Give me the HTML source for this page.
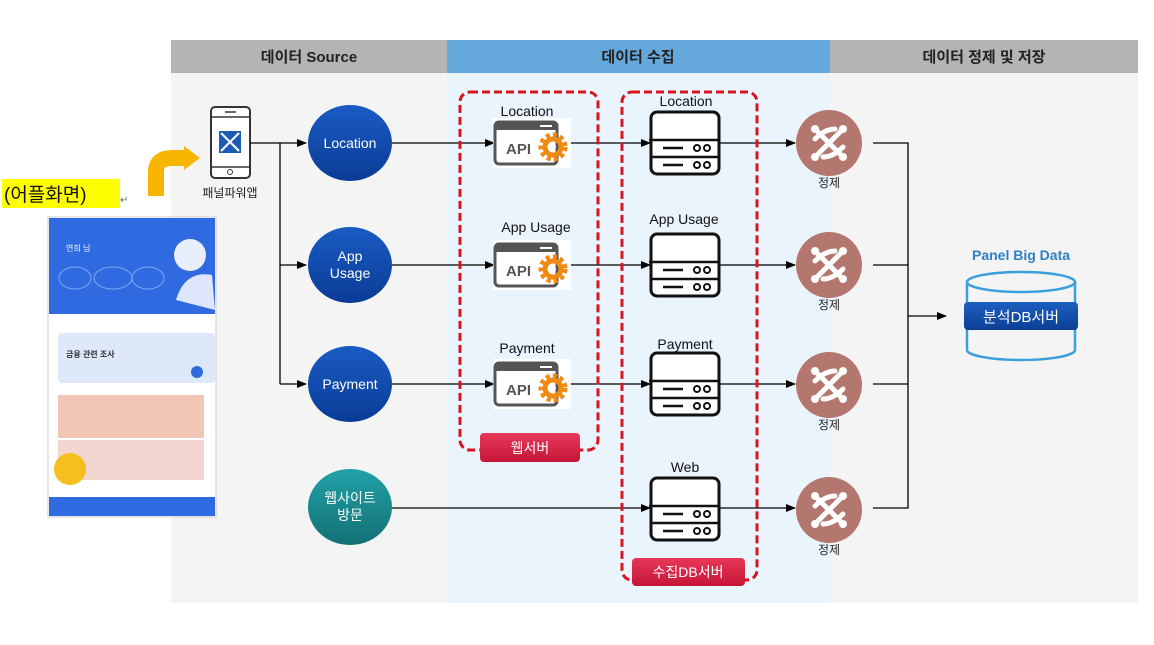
<!DOCTYPE html>
<html><head><meta charset="utf-8"><style>
html,body{margin:0;padding:0;background:#fff;width:1154px;height:645px;overflow:hidden}
svg{display:block}
text{font-family:"Liberation Sans","Noto Sans CJK KR",sans-serif}
</style></head><body>
<svg width="1154" height="645" viewBox="0 0 1154 645" xmlns="http://www.w3.org/2000/svg">
<defs>
<marker id="ah" markerWidth="10" markerHeight="8" refX="9" refY="4" orient="auto" markerUnits="userSpaceOnUse"><path d="M0,0 L10,4 L0,8 z" fill="#000"/></marker>
<linearGradient id="blu" x1="0" y1="0" x2="0" y2="1"><stop offset="0" stop-color="#1a5bc4"/><stop offset="1" stop-color="#0a3c96"/></linearGradient>
<linearGradient id="tea" x1="0" y1="0" x2="0" y2="1"><stop offset="0" stop-color="#21a2a8"/><stop offset="1" stop-color="#137075"/></linearGradient>
<linearGradient id="red" x1="0" y1="0" x2="0" y2="1"><stop offset="0" stop-color="#e8385a"/><stop offset="1" stop-color="#c51638"/></linearGradient>
<linearGradient id="dbb" x1="0" y1="0" x2="0" y2="1"><stop offset="0" stop-color="#1d5fc0"/><stop offset="1" stop-color="#0b3f95"/></linearGradient>
<g id="srv"><rect x="0" y="0" width="68" height="62" rx="6" fill="#fff" stroke="#111" stroke-width="3"/><line x1="-2" y1="28" x2="68" y2="28" stroke="#111" stroke-width="2.5"/><line x1="0" y1="45" x2="68" y2="45" stroke="#111" stroke-width="2.5"/><line x1="12" y1="36" x2="32" y2="36" stroke="#111" stroke-width="2.5"/><line x1="12" y1="53" x2="32" y2="53" stroke="#111" stroke-width="2.5"/><circle cx="46" cy="36" r="3" fill="none" stroke="#111" stroke-width="2"/><circle cx="56" cy="36" r="3" fill="none" stroke="#111" stroke-width="2"/><circle cx="46" cy="53" r="3" fill="none" stroke="#111" stroke-width="2"/><circle cx="56" cy="53" r="3" fill="none" stroke="#111" stroke-width="2"/></g>
<g id="api"><rect x="-1" y="-4" width="78" height="50" fill="#fff"/><rect x="1" y="0" width="62" height="42" rx="4" fill="#fff" stroke="#555" stroke-width="3"/><rect x="1" y="0" width="62" height="8" fill="#555"/><line x1="46" y1="4" x2="58" y2="4" stroke="#fff" stroke-width="2"/><text x="12" y="32" font-size="15" font-weight="bold" fill="#555">API</text><circle cx="59" cy="25" r="12" fill="none" stroke="#f08a12" stroke-width="5" stroke-dasharray="4 3"/><circle cx="59" cy="25" r="8" fill="none" stroke="#f08a12" stroke-width="5"/><circle cx="59" cy="25" r="3" fill="#fff"/></g>
<g id="ref"><circle cx="0" cy="0" r="33" fill="#b4776f"/><g stroke="#fff" stroke-width="5" fill="none" stroke-linecap="round"><path d="M-12,-12 L12,12 M12,-12 L-12,12"/><path d="M-14,-4 Q-4,-14 6,-14 M14,4 Q4,14 -6,14"/></g><circle cx="-14" cy="-14" r="4" fill="#fff"/><circle cx="14" cy="-14" r="4" fill="#fff"/><circle cx="-14" cy="14" r="4" fill="#fff"/><circle cx="14" cy="14" r="4" fill="#fff"/></g>
</defs>
<!-- backgrounds -->
<rect x="171" y="73" width="276" height="530" fill="#f4f4f4"/>
<rect x="447" y="73" width="383" height="530" fill="#eaf4fc"/>
<rect x="830" y="73" width="308" height="530" fill="#f4f4f4"/>
<rect x="171" y="40" width="276" height="33" fill="#b4b4b4"/>
<rect x="447" y="40" width="383" height="33" fill="#64a8dc"/>
<rect x="830" y="40" width="308" height="33" fill="#b4b4b4"/>
<text x="309" y="62" font-size="15" font-weight="bold" fill="#222" text-anchor="middle">데이터 Source</text>
<text x="638" y="62" font-size="15" font-weight="bold" fill="#222" text-anchor="middle">데이터 수집</text>
<text x="984" y="62" font-size="15" font-weight="bold" fill="#222" text-anchor="middle">데이터 정제 및 저장</text>

<!-- left side -->
<rect x="2" y="179" width="118" height="29" fill="#ffff00"/>
<text x="4" y="201" font-size="19" fill="#111">(어플화면)</text>
<text x="120" y="203" font-size="10" fill="#666">↵</text>
<path d="M156,196 L156,172 Q156,158 172,158 L186,158" fill="none" stroke="#f8b500" stroke-width="16"/>
<path d="M184,146 L200,158 L184,170 z" fill="#f8b500"/>
<!-- app screenshot -->
<rect x="48" y="217" width="168" height="300" fill="#fff" stroke="#ccc"/>
<rect x="49" y="218" width="166" height="96" fill="#2f6ae0"/>
<path d="M49,314 Q60,305 100,305 L215,305 L215,314 z" fill="#2f6ae0"/>
<text x="66" y="251" font-size="8" fill="#fff">연희 님</text>
<ellipse cx="75" cy="278" rx="16" ry="11" fill="none" stroke="#7fa8f0"/>
<ellipse cx="113" cy="278" rx="19" ry="11" fill="none" stroke="#7fa8f0"/>
<ellipse cx="148" cy="278" rx="16" ry="11" fill="none" stroke="#7fa8f0"/>
<circle cx="190" cy="255" r="16" fill="#e8eefc"/>
<path d="M176,300 Q185,270 212,275 L215,310 z" fill="#dde6fb"/>
<rect x="58" y="333" width="157" height="50" rx="4" fill="#dde8fb"/>
<text x="66" y="357" font-size="8" font-weight="bold" fill="#333">금융 관련 조사</text>
<circle cx="197" cy="372" r="6" fill="#2f6ae0"/>
<rect x="58" y="395" width="146" height="43" fill="#f2c6b6"/>
<rect x="58" y="440" width="146" height="40" fill="#f2d5cf"/>
<circle cx="70" cy="469" r="16" fill="#f6be1e"/>
<rect x="49" y="497" width="166" height="19" fill="#2f6ae0"/>
<!-- phone -->
<rect x="211" y="107" width="39" height="71" rx="4" fill="#fff" stroke="#333" stroke-width="2"/>
<line x1="211" y1="117" x2="250" y2="117" stroke="#333" stroke-width="1.5"/>
<line x1="211" y1="167" x2="250" y2="167" stroke="#333" stroke-width="1.5"/>
<line x1="225" y1="112" x2="236" y2="112" stroke="#333" stroke-width="1.5"/>
<circle cx="230" cy="172" r="2.5" fill="none" stroke="#333"/>
<rect x="219" y="131" width="22" height="22" fill="#1e5bb5"/>
<path d="M221,133 L239,151 M239,133 L221,151" stroke="#fff" stroke-width="2"/>
<text x="230" y="197" font-size="12" fill="#222" text-anchor="middle">패널파워앱</text>
<!-- connectors from phone -->
<g stroke="#000" stroke-width="1.3" fill="none">
<line x1="250" y1="143" x2="306" y2="143" marker-end="url(#ah)"/>
<line x1="280" y1="143" x2="280" y2="384"/>
<line x1="280" y1="265" x2="306" y2="265" marker-end="url(#ah)"/>
<line x1="280" y1="384" x2="306" y2="384" marker-end="url(#ah)"/>
<line x1="392" y1="143" x2="494" y2="143" marker-end="url(#ah)"/>
<line x1="392" y1="265" x2="494" y2="265" marker-end="url(#ah)"/>
<line x1="392" y1="384" x2="494" y2="384" marker-end="url(#ah)"/>
<line x1="571" y1="143" x2="650" y2="143" marker-end="url(#ah)"/>
<line x1="571" y1="265" x2="650" y2="265" marker-end="url(#ah)"/>
<line x1="571" y1="384" x2="650" y2="384" marker-end="url(#ah)"/>
<line x1="392" y1="508" x2="650" y2="508" marker-end="url(#ah)"/>
<line x1="718" y1="143" x2="795" y2="143" marker-end="url(#ah)"/>
<line x1="718" y1="265" x2="795" y2="265" marker-end="url(#ah)"/>
<line x1="718" y1="384" x2="795" y2="384" marker-end="url(#ah)"/>
<line x1="718" y1="508" x2="795" y2="508" marker-end="url(#ah)"/>
<polyline points="873,143 908,143 908,508 873,508"/>
<line x1="873" y1="265" x2="908" y2="265"/>
<line x1="873" y1="384" x2="908" y2="384"/>
<line x1="908" y1="316" x2="946" y2="316" marker-end="url(#ah)"/>
</g>
<!-- source circles -->
<ellipse cx="350" cy="143" rx="42" ry="38" fill="url(#blu)"/>
<text x="350" y="148" font-size="14" fill="#fff" text-anchor="middle">Location</text>
<ellipse cx="350" cy="265" rx="42" ry="38" fill="url(#blu)"/>
<text x="350" y="261" font-size="14" fill="#fff" text-anchor="middle">App</text>
<text x="350" y="278" font-size="14" fill="#fff" text-anchor="middle">Usage</text>
<ellipse cx="350" cy="384" rx="42" ry="38" fill="url(#blu)"/>
<text x="350" y="389" font-size="14" fill="#fff" text-anchor="middle">Payment</text>
<ellipse cx="350" cy="507" rx="42" ry="38" fill="url(#tea)"/>
<text x="350" y="503" font-size="14" fill="#fff" text-anchor="middle">웹사이트</text>
<text x="350" y="520" font-size="14" fill="#fff" text-anchor="middle">방문</text>
<!-- dashed boxes -->
<rect x="460" y="92" width="138" height="358" rx="10" fill="none" stroke="#d8141e" stroke-width="3" stroke-dasharray="8 4"/>
<rect x="622" y="92" width="135" height="488" rx="10" fill="none" stroke="#d8141e" stroke-width="3" stroke-dasharray="8 4"/>
<rect x="480" y="433" width="100" height="29" rx="4" fill="url(#red)"/>
<text x="530" y="453" font-size="14" fill="#fff" text-anchor="middle">웹서버</text>
<rect x="632" y="558" width="113" height="28" rx="4" fill="url(#red)"/>
<text x="688" y="577" font-size="14" fill="#fff" text-anchor="middle">수집DB서버</text>
<!-- API -->
<text x="527" y="116" font-size="14" fill="#111" text-anchor="middle">Location</text>
<use href="#api" x="494" y="122"/>
<text x="536" y="232" font-size="14" fill="#111" text-anchor="middle">App Usage</text>
<use href="#api" x="494" y="244"/>
<text x="527" y="353" font-size="14" fill="#111" text-anchor="middle">Payment</text>
<use href="#api" x="494" y="363"/>
<!-- servers -->
<text x="686" y="106" font-size="14" fill="#111" text-anchor="middle">Location</text>
<use href="#srv" x="651" y="112"/>
<text x="684" y="224" font-size="14" fill="#111" text-anchor="middle">App Usage</text>
<use href="#srv" x="651" y="234"/>
<text x="685" y="349" font-size="14" fill="#111" text-anchor="middle">Payment</text>
<use href="#srv" x="651" y="353"/>
<text x="685" y="472" font-size="14" fill="#111" text-anchor="middle">Web</text>
<use href="#srv" x="651" y="478"/>
<!-- refine -->
<use href="#ref" x="829" y="143"/><text x="829" y="187" font-size="12" fill="#222" text-anchor="middle">정제</text>
<use href="#ref" x="829" y="265"/><text x="829" y="309" font-size="12" fill="#222" text-anchor="middle">정제</text>
<use href="#ref" x="829" y="385"/><text x="829" y="429" font-size="12" fill="#222" text-anchor="middle">정제</text>
<use href="#ref" x="829" y="510"/><text x="829" y="554" font-size="12" fill="#222" text-anchor="middle">정제</text>
<!-- DB -->
<text x="1021" y="260" font-size="14" font-weight="bold" fill="#2f7fc4" text-anchor="middle">Panel Big Data</text>
<ellipse cx="1021" cy="282" rx="54" ry="10" fill="none" stroke="#3aa0dc" stroke-width="2.5"/>
<path d="M967,282 L967,350 A54,10 0 0 0 1075,350 L1075,282" fill="none" stroke="#3aa0dc" stroke-width="2.5"/>
<rect x="964" y="302" width="114" height="28" rx="4" fill="url(#dbb)"/>
<text x="1021" y="322" font-size="15" fill="#fff" text-anchor="middle">분석DB서버</text>
</svg>
</body></html>
